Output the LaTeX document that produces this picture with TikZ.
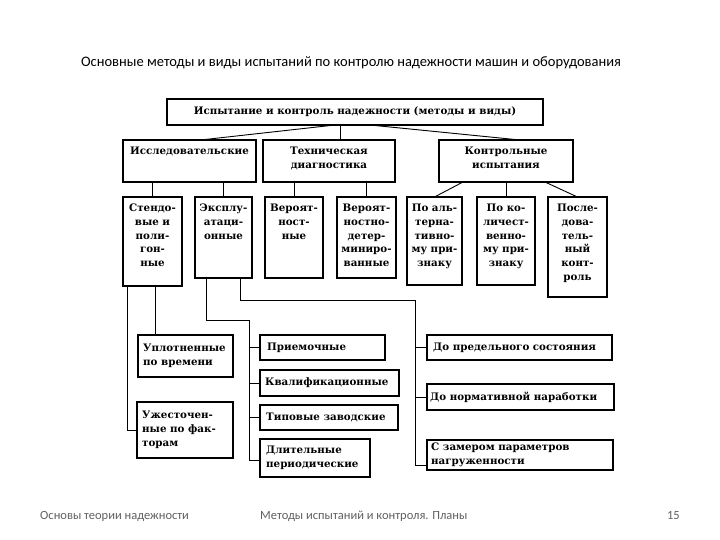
\documentclass[tikz,border=0pt]{standalone}
\usepackage{fontspec}
\setmainfont{DejaVu Serif}
\newfontfamily\slidefont{Carlito}
\usetikzlibrary{calc}
\tikzset{
  bx/.style={draw, line width=1.2pt, inner sep=0pt, outer sep=0pt},
  ln/.style={line width=0.9pt},
  tx/.style={font=\bfseries\fontsize{10.3}{13.7}\selectfont, inner sep=0pt, align=center},
  txl/.style={font=\bfseries\fontsize{10.3}{13.7}\selectfont, inner sep=0pt, align=left},
  foot/.style={font=\slidefont\fontsize{12.5}{14}\selectfont, text=black!62, inner sep=0pt},
}
\newcommand\mybox[5]{\node[bx, minimum width={#4pt-#2pt}, minimum height={#5pt-#3pt}] (#1) at ({(#2+#4)/2},{(#3+#5)/2}) {};}
\begin{document}
\begin{tikzpicture}[x=1pt,y=-1pt]
\fill[white] (0,0) rectangle (720,540);
\useasboundingbox (0,0) rectangle (720,540);

% title and footer
\node[font=\slidefont\fontsize{14.5}{16}\selectfont, inner sep=0pt] (title) at (351,63) {Основные методы и виды испытаний по контролю надежности машин и оборудования};
\node[foot, anchor=west] (f1) at (40,516) {Основы теории надежности};
\node[foot, anchor=west] (f2) at (260,516) {Методы испытаний и контроля. Планы};
\node[foot, anchor=east] (f3) at (680,516) {15};

% boxes
\mybox{T}{167}{99}{543}{125}
\mybox{R1}{123}{140}{256}{182}
\mybox{R2}{263}{140}{395}{182}
\mybox{R3}{439}{140}{573}{182}
\mybox{A}{123}{197}{182}{286}
\mybox{B}{195}{197}{252}{278}
\mybox{C}{265}{197}{323}{278}
\mybox{D}{337}{197}{396}{278}
\mybox{E}{407}{197}{462}{285}
\mybox{F}{477}{197}{535}{285}
\mybox{G}{548}{197}{607}{297}
\mybox{U}{138}{335}{233}{377}
\mybox{Zh}{137}{402}{233}{458}
\mybox{Pr}{260}{335}{385}{360}
\mybox{Kv}{260}{370}{399}{396}
\mybox{Tp}{260}{405}{398}{430}
\mybox{Dl}{260}{439}{370}{477}
\mybox{Pa}{427}{335}{612}{360}
\mybox{Pb}{427}{384}{614}{410}
\mybox{Pc}{427}{440}{613}{470}

% texts
\node[tx] (T-t) at (T.center) {Испытание и контроль надежности (методы и виды)};
\node[tx, anchor=north] (R1-t) at ([yshift=-7pt]R1.north) {Исследовательские};
\node[tx, anchor=north] (R2-t) at ([yshift=-7pt]R2.north) {Техническая\\диагностика};
\node[tx, anchor=north] (R3-t) at ([yshift=-7pt]R3.north) {Контрольные\\испытания};
\node[tx, anchor=north] (A-t) at ([yshift=-7pt]A.north) {Стендо-\\вые и\\поли-\\гон-\\ные};
\node[tx, anchor=north] (B-t) at ([yshift=-7pt]B.north) {Эксплу-\\атаци-\\онные};
\node[tx, anchor=north] (C-t) at ([yshift=-7pt]C.north) {Вероят-\\ност-\\ные};
\node[tx, anchor=north] (D-t) at ([yshift=-7pt]D.north) {Вероят-\\ностно-\\детер-\\миниро-\\ванные};
\node[tx, anchor=north] (E-t) at ([yshift=-7pt]E.north) {По аль-\\терна-\\тивно-\\му при-\\знаку};
\node[tx, anchor=north] (F-t) at ([yshift=-7pt]F.north) {По ко-\\личест-\\венно-\\му при-\\знаку};
\node[tx, anchor=north] (G-t) at ([yshift=-7pt]G.north) {После-\\дова-\\тель-\\ный\\конт-\\роль};
\node[txl, anchor=west] (U-t) at ([xshift=5pt]U.west) {Уплотненные\\по времени};
\node[txl, anchor=west] (Zh-t) at ([xshift=5pt]Zh.west) {Ужесточен-\\ные по фак-\\торам};
\node[txl, anchor=west] (Pr-t) at ([xshift=7pt]Pr.west) {Приемочные};
\node[txl, anchor=west] (Kv-t) at ([xshift=5pt]Kv.west) {Квалификационные};
\node[txl, anchor=west] (Tp-t) at ([xshift=6pt]Tp.west) {Типовые заводские};
\node[txl, anchor=west] (Dl-t) at ([xshift=6pt]Dl.west) {Длительные\\периодические};
\node[txl, anchor=west] (Pa-t) at ([xshift=6pt]Pa.west) {До предельного состояния};
\node[txl, anchor=west] (Pb-t) at ([xshift=3pt]Pb.west) {До нормативной наработки};
\node[txl, anchor=west] (Pc-t) at ([xshift=4pt]Pc.west) {С замером параметров\\нагруженности};

% top level connectors
\draw[ln] ([xshift=-20pt]T.south) -- ([xshift=11pt]R1.north);
\draw[ln] ([xshift=-15pt]T.south) -- ([xshift=-15pt]T.south |- R2.north);
\draw[ln] ([xshift=15pt]T.south) -- ([xshift=14pt]R3.north);

% second level
\draw[ln] (A.north |- R1.south) -- (A.north);
\draw[ln] (B.north |- R1.south) -- (B.north);
\draw[ln] (C.north |- R2.south) -- (C.north);
\draw[ln] (D.north |- R2.south) -- (D.north);
\draw[ln] ([xshift=-43pt]R3.south) -- (E.north);
\draw[ln] (F.north |- R3.south) -- (F.north);
\draw[ln] ([xshift=39pt]R3.south) -- (G.north);

% lower connectors
\coordinate (m1) at (249,320);
\coordinate (r1) at (415,300);
\draw[ln] ([xshift=2.5pt]A.south) -- ([xshift=2.5pt]A.south |- U.north);
\draw[ln] ([xshift=4pt]A.south west) |- (Zh.west);
\draw[ln] ([xshift=11pt]B.south west) |- (m1) |- ([yshift=-2pt]Dl.west);
\draw[ln] (m1 |- Pr.west) -- (Pr.west);
\draw[ln] (m1 |- Kv.west) -- (Kv.west);
\draw[ln] (m1 |- Tp.west) -- (Tp.west);
\draw[ln] ([xshift=-12pt]B.south east) |- (r1) |- ([yshift=-10pt]Pc.west);
\draw[ln] (r1 |- Pa.west) -- (Pa.west);
\draw[ln] (r1 |- Pb.west) -- (Pb.west);
\end{tikzpicture}
\end{document}
